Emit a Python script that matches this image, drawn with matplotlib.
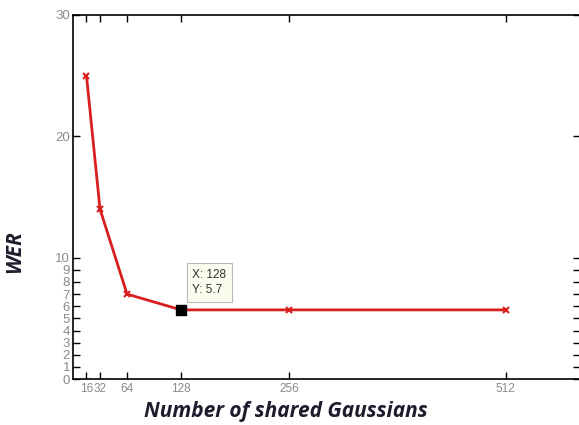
import matplotlib
matplotlib.use("Agg")
import matplotlib.pyplot as plt

# values
n_gaussians = [16, 32, 64, 128, 256, 512]
wer = [25.0, 14.0, 7.0, 5.7, 5.7, 5.7]
x_ticks = [16, 32, 64, 128, 256, 512]
y_ticks = list(range(0, 11)) + [20, 30]
tip_x = 128
tip_y = 5.7

plt.rcParams.update({
    "font.family": ["Liberation Sans", "DejaVu Sans"],
    "font.size": 9,
})

fig = plt.figure(figsize=(5.79, 4.25), dpi=100)
ax = fig.add_axes([0.126, 0.108, 0.876, 0.857])

ax.plot(n_gaussians, wer, color="#d81e1e", linewidth=2.0,
        marker="x", markersize=5, markeredgewidth=1.5, zorder=3)

# datatip marker and box
ax.plot([tip_x], [tip_y], marker="s", color="black", markersize=7, zorder=4)
ax.annotate(f"X: {tip_x}\nY: {tip_y}", xy=(tip_x, tip_y),
            xytext=(8, 12), textcoords="offset points",
            fontsize=8.5, color="#333333", linespacing=1.4,
            bbox=dict(boxstyle="square,pad=0.45", facecolor="#fbfbee",
                      edgecolor="#b8b8b8", linewidth=0.8),
            zorder=5)

ax.set_xlim(0, 600)
ax.set_ylim(0, 30)
ax.set_xticks(x_ticks)
ax.set_yticks(y_ticks)
ax.tick_params(axis="both", direction="in", top=True, right=True,
               labelcolor="#8a8a8a", labelsize=9.5, length=5, width=1.0)
ax.tick_params(axis="x", pad=3, labelsize=8.5)
ax.tick_params(axis="y", pad=2)

for sp in ax.spines.values():
    sp.set_linewidth(1.2)

label_font = dict(family="Open Sans", fontweight="bold", style="italic",
                  fontsize=15, color="#1c1c2c")
ax.set_xlabel("Number of shared Gaussians", **label_font)
ax.set_ylabel("WER", **label_font)
ax.xaxis.set_label_coords(0.42, -0.06)
ax.yaxis.set_label_coords(-0.095, 0.35)

fig.savefig("out.png", dpi=100)
